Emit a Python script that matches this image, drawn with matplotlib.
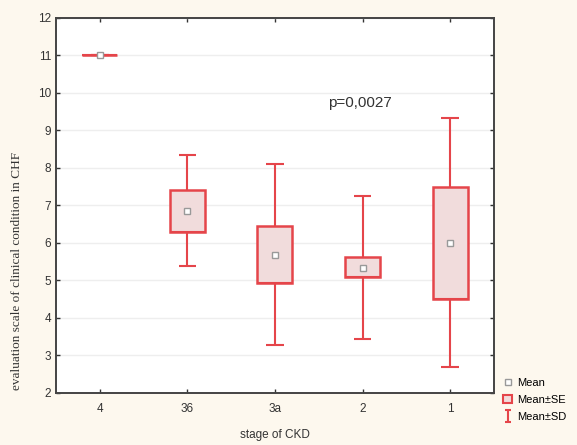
import numpy as np
import matplotlib.pyplot as plt
from matplotlib.patches import Rectangle
from matplotlib.lines import Line2D
from matplotlib.path import Path

stages = ['4', '36', '3a', '2', '1']
mean = [11.0, 6.85, 5.68, 5.32, 5.99]
se_low = [11.0, 6.30, 4.94, 5.08, 4.51]
se_high = [11.0, 7.41, 6.45, 5.62, 7.49]
sd_low = [11.0, 5.39, 3.29, 3.44, 2.68]
sd_high = [11.0, 8.33, 8.11, 7.24, 9.33]

red = '#e5454a'
fill = '#f1dcdc'
bg = '#fdf8ee'

fig = plt.figure(figsize=(5.77, 4.45), dpi=100, facecolor=bg)
ax = fig.add_axes([0.097, 0.117, 0.759, 0.843])
ax.set_facecolor('white')

x = np.arange(len(stages))
box_w = 0.4
cap_w = 0.2

# whiskers (Mean±SD)
ax.vlines(x, sd_low, sd_high, color=red, lw=1.5, zorder=2)
ax.hlines(sd_low, x - cap_w / 2, x + cap_w / 2, color=red, lw=1.5, zorder=2)
ax.hlines(sd_high, x - cap_w / 2, x + cap_w / 2, color=red, lw=1.5, zorder=2)

# boxes (Mean±SE)
h = np.array(se_high) - np.array(se_low)
ax.bar(x, h, bottom=se_low, width=box_w, color=fill, edgecolor=red,
       lw=1.8, zorder=3)
# zero-height box for stage 4 shows as a line
ax.hlines(se_low, x - box_w / 2, x + box_w / 2, color=red, lw=1.5,
          zorder=3)

# means
ax.plot(x, mean, ls='none', marker='s', ms=4, mfc='white', mec='#999999',
        mew=1, zorder=4)

ax.text(2.97, 9.73, 'p=0,0027', fontsize=11, ha='center', va='center',
        family='Liberation Sans', color='#333333')

ax.set_xlim(-0.5, 4.5)
ax.set_ylim(2, 12)
ax.set_yticks(range(2, 13))
ax.set_xticks(x)
ax.set_xticklabels(stages)
ax.grid(axis='y', color='#eeeeee', lw=1)
ax.set_axisbelow(True)
ax.tick_params(direction='in', length=3, width=1, colors='#333333',
               labelsize=8.5, top=True, right=True)
ax.tick_params(axis='x', pad=7)
for lab in ax.get_xticklabels() + ax.get_yticklabels():
    lab.set_family('Liberation Sans')
for s in ax.spines.values():
    s.set_color('#444444')
    s.set_linewidth(1.4)

ax.set_xlabel('stage of CKD', fontsize=8.5, family='Liberation Sans',
              color='#333333', labelpad=10)
ax.set_ylabel('evaluation scale of clinical condition in CHF', fontsize=9.5,
              family='Liberation Serif', color='#333333')
ax.yaxis.set_label_coords(-0.075, 0.325)

ibar = Path([(-0.5, -1), (0.5, -1), (0, -1), (0, 1), (-0.5, 1), (0.5, 1)],
            [Path.MOVETO, Path.LINETO, Path.MOVETO, Path.LINETO,
             Path.MOVETO, Path.LINETO])
handles = [
    Line2D([], [], ls='none', marker='s', ms=4, mfc='white', mec='#999999'),
    Rectangle((0, 0), 1, 1, facecolor=fill, edgecolor=red, lw=1.5),
    Line2D([], [], ls='none', marker=ibar, ms=9, mew=1.5, color=red),
]
fig.legend(handles, ['Mean', 'Mean±SE', 'Mean±SD'], loc='lower left',
           bbox_to_anchor=(0.855, 0.03), frameon=False,
           handlelength=0.8, handletextpad=0.4, labelspacing=0.6,
           prop={'family': 'Liberation Sans', 'size': 8})

fig.savefig('out.png', dpi=100, facecolor=bg)
